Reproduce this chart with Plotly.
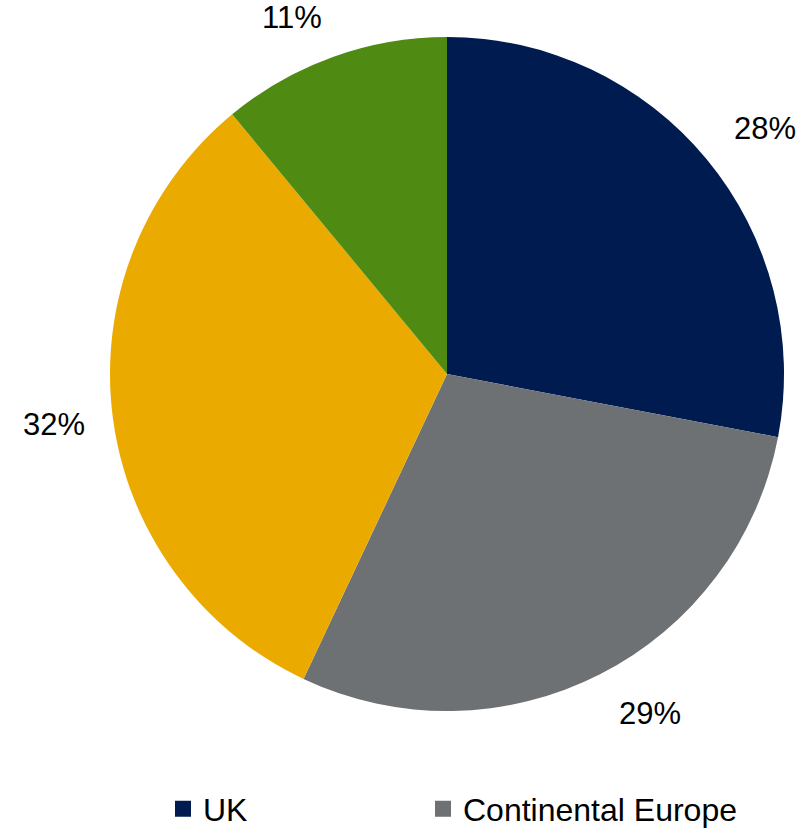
import math
import plotly.graph_objects as go

# Revenue split by region (percent)
regions = ["UK", "Continental Europe", "North America", "Rest of World"]
shares = [28, 29, 32, 11]
colors = ["#001B50", "#6D7174", "#EBAA00", "#4F8A13"]

# Regions listed in the legend row, with the left edge of each entry (px)
legend_regions = ["UK", "Continental Europe"]
legend_left = [163, 423]

W, H = 802, 830
cx, cy, r = 447, 374, 337   # pie centre / radius in pixels (y measured from top)
label_dist = r + 26         # distance of the label's inner corner from the centre
FONT = "Liberation Sans, Arial"

fig = go.Figure()

fig.add_trace(go.Pie(
    labels=regions,
    values=shares,
    sort=False,
    direction="clockwise",
    rotation=0,
    marker=dict(colors=colors, line=dict(width=0)),
    textinfo="none",
    showlegend=False,
    domain=dict(
        x=[(cx - r) / W, (cx + r) / W],
        y=[(H - cy - r) / H, (H - cy + r) / H],
    ),
    hoverinfo="label+percent",
))

# Percentage labels placed just outside each slice, at the slice's mid angle
total = sum(shares)
start = 0.0
annotations = []
for val in shares:
    mid = (start + val / 2) / total * 2 * math.pi   # clockwise from 12 o'clock
    start += val
    dx, dy = math.sin(mid), -math.cos(mid)          # dy positive = downward
    xa = "left" if dx > 0.3 else ("right" if dx < -0.3 else "center")
    ya = "top" if dy > 0.3 else ("bottom" if dy < -0.3 else "middle")
    annotations.append(dict(
        x=(cx + label_dist * dx) / W,
        y=(H - (cy + label_dist * dy)) / H,
        xref="paper", yref="paper",
        xanchor=xa, yanchor=ya,
        xshift=5 if xa == "left" else 0,
        yshift=3 if ya == "top" else -5,
        text=f"{val}%",
        showarrow=False,
        font=dict(family=FONT, size=31, color="#000000"),
    ))

# One legend per entry so each can sit at its own position
layout_legends = {}
for i, (name, left) in enumerate(zip(legend_regions, legend_left)):
    key = "legend" if i == 0 else f"legend{i + 1}"
    fig.add_trace(go.Scatter(
        x=[None], y=[None], mode="markers", name=name,
        marker=dict(symbol="square", size=17, color=colors[regions.index(name)]),
        showlegend=True,
        legend=key,
    ))
    layout_legends[key] = dict(
        orientation="h",
        x=left / W, xanchor="left",
        y=(H - 809) / H, yanchor="middle",
        itemsizing="trace",
        font=dict(family=FONT, size=32, color="#000000"),
        bgcolor="rgba(0,0,0,0)",
    )

fig.update_layout(
    width=W, height=H,
    margin=dict(l=0, r=0, t=0, b=0, autoexpand=False),
    paper_bgcolor="#FFFFFF",
    plot_bgcolor="#FFFFFF",
    font=dict(family=FONT, size=30, color="#000000"),
    xaxis=dict(visible=False),
    yaxis=dict(visible=False),
    annotations=annotations,
    **layout_legends,
)

fig.write_html("out.html")
